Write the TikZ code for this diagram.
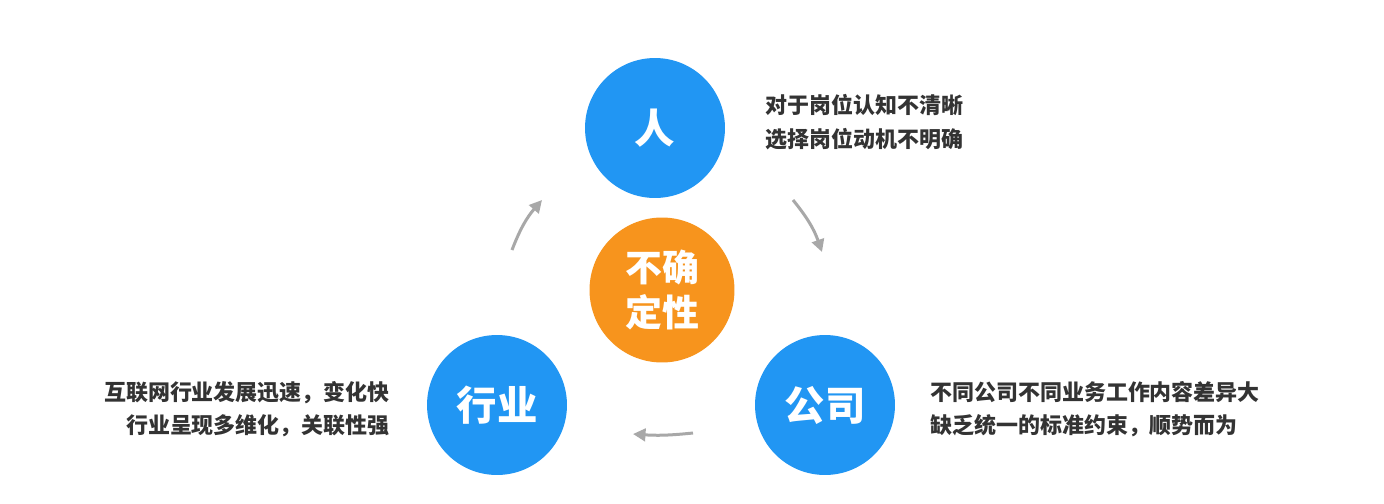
\documentclass[tikz,border=0pt]{standalone}
\usepackage{fontspec}
\newfontfamily\cjk{Noto Sans CJK SC}
\usetikzlibrary{arrows.meta}
\definecolor{bluecirc}{HTML}{2196F3}
\definecolor{orangecirc}{HTML}{F7941D}
\definecolor{graytxt}{HTML}{333333}
\definecolor{grayarr}{HTML}{A8A8A8}
\tikzset{
  bigcirc/.style={circle,fill=bluecirc,minimum size=2.8cm,inner sep=0pt,text=white,font=\cjk\bfseries\fontsize{23}{27}\selectfont},
  note/.style={text=graytxt,font=\cjk\bfseries\fontsize{12.5}{19}\selectfont,inner sep=0pt},
  cyclearr/.style={grayarr,line width=0.06cm,-{Triangle[length=0.25cm,width=0.25cm]}}
}
\begin{document}
\begin{tikzpicture}[x=0.02cm,y=-0.02cm]
  \useasboundingbox[fill=white] (0,0) rectangle (1384,504);
  % circles
  \node[bigcirc] (ren) at (655,128) {人};
  \node[bigcirc] (hangye) at (497,405) {行业};
  \node[bigcirc] (gongsi) at (825,405) {公司};
  \node[bigcirc,fill=orangecirc,minimum size=2.9cm,align=center,font=\cjk\bfseries\fontsize{21}{26}\selectfont] (core) at (662,290) {不确\\定性};
  % texts
  \node[note,anchor=west,align=left] (tren) at (765,122) {对于岗位认知不清晰\\选择岗位动机不明确};
  \node[note,anchor=east,align=right] (thangye) at (390,409) {互联网行业发展迅速，变化快\\行业呈现多维化，关联性强};
  \node[note,anchor=west,align=left] (tgongsi) at (930,409) {不同公司不同业务工作内容差异大\\缺乏统一的标准约束，顺势而为};
  % arrows
  \coordinate (a1) at (512,250); \coordinate (b1) at (542,200);
  \coordinate (a2) at (793,200); \coordinate (b2) at (822,252);
  \coordinate (a3) at (693,433); \coordinate (b3) at (633,434);
  \draw[cyclearr] (a1) to[bend left=10] (b1);
  \draw[cyclearr] (a2) to[bend left=10] (b2);
  \draw[cyclearr] (a3) to[bend left=5] (b3);
\end{tikzpicture}
\end{document}
